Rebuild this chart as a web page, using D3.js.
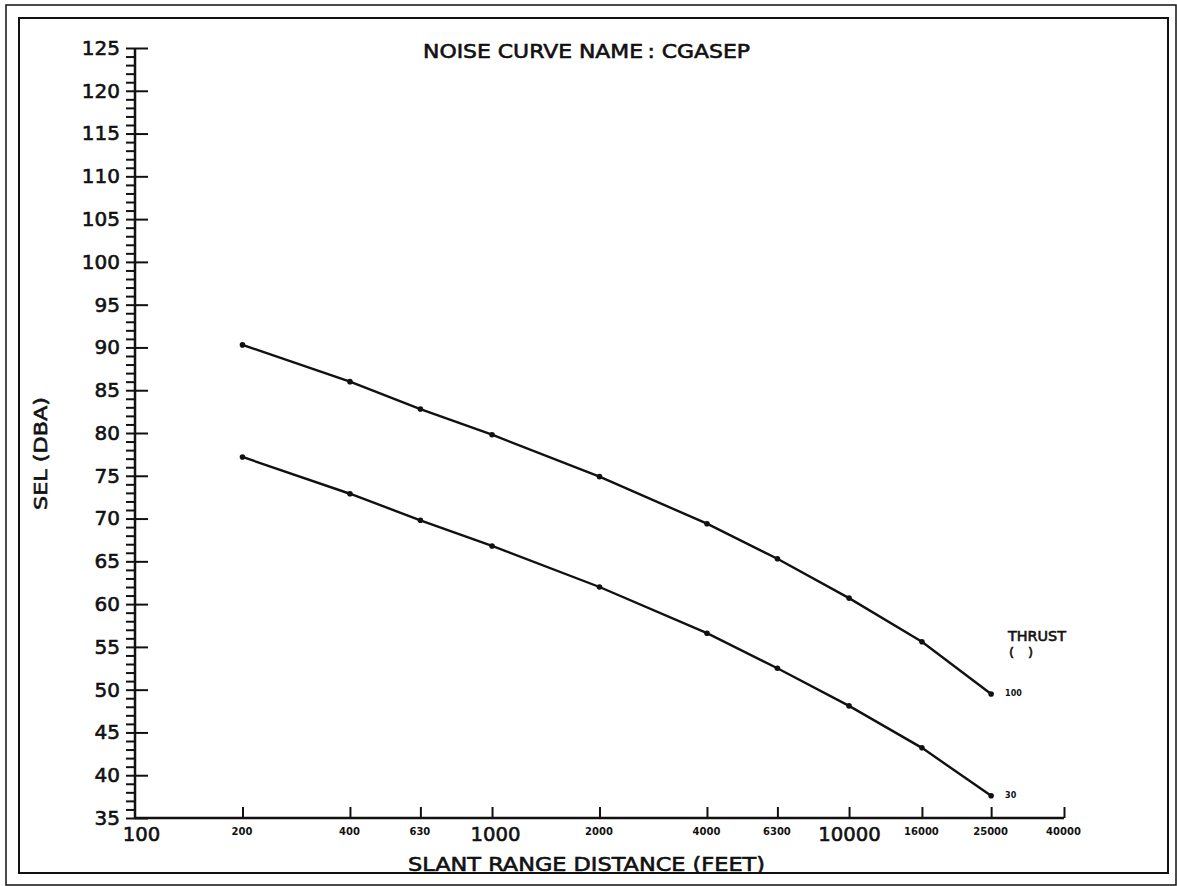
<!DOCTYPE html>
<html>
<head>
<meta charset="utf-8">
<script src="https://cdn.jsdelivr.net/npm/d3@7/dist/d3.min.js"></script>
<style>
  html, body { margin: 0; padding: 0; background: #fff; }
  svg { display: block; }
  text { font-family: "DejaVu Sans", sans-serif; fill: #111; }
  .heavy { stroke: #111; stroke-width: 0.6px; }
</style>
</head>
<body>
<svg id="chart" width="1177" height="886"></svg>
<script>
// ---- Data ----
const distances = [200, 400, 630, 1000, 2000, 4000, 6300, 10000, 16000, 25000];
const sel100 = [90.3, 86.0, 82.8, 79.8, 74.9, 69.4, 65.3, 60.7, 55.6, 49.5];
const sel30  = [77.2, 72.9, 69.8, 66.8, 62.0, 56.6, 52.5, 48.1, 43.2, 37.6];
const seriesLabels = ["100", "30"];
const xTickValues = [100, 200, 400, 630, 1000, 2000, 4000, 6300, 10000, 16000, 25000, 40000];
const xTickLabels = ["100", "200", "400", "630", "1000", "2000", "4000", "6300", "10000", "16000", "25000", "40000"];
const xBigLabels = ["100", "1000", "10000"];
const yMajorTicks = [35, 40, 45, 50, 55, 60, 65, 70, 75, 80, 85, 90, 95, 100, 105, 110, 115, 120, 125];
const titleText = "NOISE CURVE NAME\u2009:  CGASEP";
const xTitle = "SLANT RANGE DISTANCE  (FEET)";
const yTitle = "SEL  (DBA)";
const legendTitle = "THRUST";
const legendUnit = "(  )";

// ---- Layout ----
const svg = d3.select("#chart");
const x = d3.scaleLog().domain([100, 40000]).range([135, 1064]);
const y = d3.scaleLinear().domain([35, 125]).range([818, 48]);

// frames
svg.append("rect").attr("x", 6).attr("y", 5).attr("width", 1170).attr("height", 880)
  .attr("fill", "none").attr("stroke", "#111").attr("stroke-width", 1.5);
svg.append("rect").attr("x", 19).attr("y", 18).attr("width", 1149).attr("height", 855)
  .attr("fill", "none").attr("stroke", "#111").attr("stroke-width", 2);

// Y axis: minor ticks (left) with labels on multiples of 5
const yMinor = d3.range(35, 126, 1);
const yAxisL = d3.axisLeft(y).tickValues(yMinor).tickSize(9).tickPadding(6)
  .tickFormat(d => d % 5 === 0 ? String(d) : "");
const gyL = svg.append("g").attr("transform", "translate(135,0)").call(yAxisL);
gyL.select(".domain").remove();
gyL.selectAll(".tick line").attr("stroke", "#111").attr("stroke-width", 2);
gyL.selectAll(".tick text").style("font-size", "20px").style("font-family", "DejaVu Sans, sans-serif")
  .attr("fill", "#111").attr("class", "heavy");

// Y axis major ticks to the right
const yAxisR = d3.axisRight(y).tickValues(yMajorTicks).tickSize(13).tickFormat("");
const gyR = svg.append("g").attr("transform", "translate(135,0)").call(yAxisR);
gyR.select(".domain").remove();
gyR.selectAll(".tick line").attr("stroke", "#111").attr("stroke-width", 2);

// axis lines
svg.append("line").attr("x1", 135).attr("x2", 135).attr("y1", y(125)).attr("y2", y(35))
  .attr("stroke", "#111").attr("stroke-width", 2.5);
svg.append("line").attr("x1", x(100)).attr("x2", x(40000)).attr("y1", y(35)).attr("y2", y(35))
  .attr("stroke", "#111").attr("stroke-width", 2.5);

// X axis ticks (upward)
const xAxisT = d3.axisTop(x).tickValues(xTickValues.slice(1)).tickSize(11).tickFormat("");
const gxT = svg.append("g").attr("transform", `translate(0,${y(35)})`).call(xAxisT);
gxT.select(".domain").remove();
gxT.selectAll(".tick line").attr("stroke", "#111").attr("stroke-width", 2);

// X axis labels
const xAxisB = d3.axisBottom(x).tickValues(xTickValues).tickSize(0)
  .tickFormat((d, i) => xTickLabels[i]);
const gxB = svg.append("g").attr("transform", `translate(0,${y(35)})`).call(xAxisB);
gxB.select(".domain").remove();
gxB.selectAll(".tick text").each(function(d, i) {
  const big = xBigLabels.includes(xTickLabels[i]);
  const t = d3.select(this);
  t.attr("fill", "#111").style("font-family", "DejaVu Sans, sans-serif");
  if (big) {
    t.attr("class", "heavy").style("font-size", "20px").attr("y", 0).attr("dy", "1.1em")
      .attr("dx", xTickLabels[i] === "100" ? 6 : (xTickLabels[i] === "1000" ? 3 : 0))
      .attr("textLength", xTickLabels[i].length * 12.5).attr("lengthAdjust", "spacingAndGlyphs")
      .attr("transform", "translate(0,1)");
  } else {
    t.style("font-size", "10px").style("font-weight", "bold").attr("y", 0).attr("dy", "1.65em")
      .attr("dx", -1);
  }
});

// Lines
const line = d3.line().x(d => x(d[0])).y(d => y(d[1]));
const series = [sel100, sel30];
series.forEach((vals, si) => {
  const pts = distances.map((d, i) => [d, vals[i]]);
  svg.append("path").datum(pts).attr("d", line)
    .attr("fill", "none").attr("stroke", "#111").attr("stroke-width", 2.4);
  svg.append("g").selectAll("circle").data(pts).join("circle")
    .attr("cx", d => x(d[0])).attr("cy", d => y(d[1])).attr("r", 2.8).attr("fill", "#111");
  const last = pts[pts.length - 1];
  svg.append("text").attr("x", x(last[0]) + 14).attr("y", y(last[1]))
    .attr("dominant-baseline", "middle").style("font-size", "8px").style("font-weight", "bold")
    .text(seriesLabels[si]);
});

// Legend title
svg.append("text").attr("x", 1008).attr("y", 641).style("font-size", "14px").attr("class", "heavy")
  .attr("textLength", 58).attr("lengthAdjust", "spacingAndGlyphs").text(legendTitle);
svg.append("text").attr("x", 1009).attr("y", 657).style("font-size", "13px").attr("class", "heavy")
  .attr("textLength", 24).attr("lengthAdjust", "spacing").text(legendUnit);

// Titles
svg.append("text").attr("x", 423).attr("y", 58).style("font-size", "19px").attr("class", "heavy")
  .attr("textLength", 327).attr("lengthAdjust", "spacingAndGlyphs").text(titleText);
svg.append("text").attr("x", 408).attr("y", 871).style("font-size", "19px").attr("class", "heavy")
  .attr("textLength", 357).attr("lengthAdjust", "spacingAndGlyphs").text(xTitle);
svg.append("text").attr("transform", "translate(47,510) rotate(-90)").style("font-size", "18px").attr("class", "heavy")
  .attr("textLength", 113).attr("lengthAdjust", "spacingAndGlyphs").text(yTitle);
</script>
</body>
</html>
